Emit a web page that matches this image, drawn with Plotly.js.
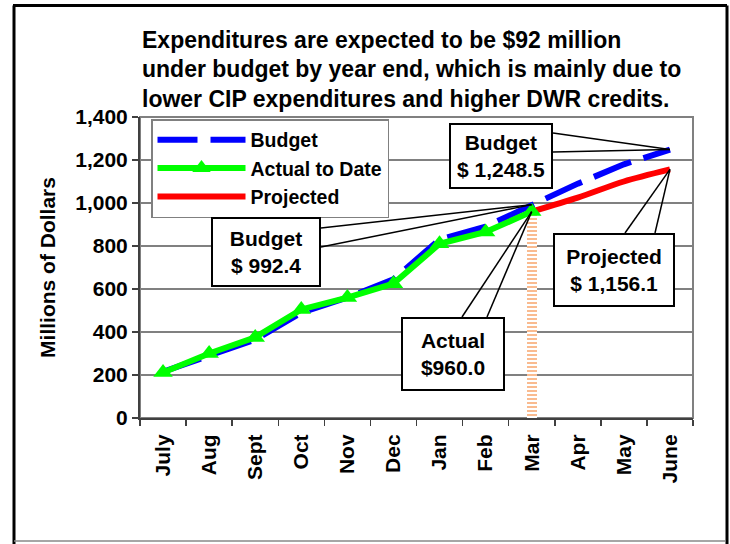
<!DOCTYPE html>
<html>
<head>
<meta charset="utf-8">
<script src="https://cdn.plot.ly/plotly-3.0.1.min.js"></script>
<style>
  html, body { margin: 0; padding: 0; background: #ffffff; }
  #chart { width: 730px; height: 544px; }
</style>
</head>
<body>
<div id="chart"></div>
<script>
// ---- data ----
const months = ['July','Aug','Sept','Oct','Nov','Dec','Jan','Feb','Mar','Apr','May','June'];
const budget = [215, 290, 365, 490, 560, 645, 830, 890, 992.4, 1090, 1180, 1248.5];
const actualToDate = [212, 300, 375, 505, 560, 625, 810, 865, 960.0, null, null, null];
const projected = [null, null, null, null, null, null, null, null, 960.0, 1025, 1100, 1156.1];
const currentMonthBar = [null, null, null, null, null, null, null, null, 960.0, null, null, null];
const titleLines = [
  'Expenditures are expected to be $92 million',
  'under budget by year end, which is mainly due to',
  'lower CIP expenditures and higher DWR credits.'
];
const yTitle = 'Millions of Dollars';
// callouts: label, series, month index
const callouts = [
  { text: 'Budget<br>$ 1,248.5', series: budget, idx: 11 },
  { text: 'Budget<br>$ 992.4', series: budget, idx: 8 },
  { text: 'Actual<br>$960.0', series: actualToDate, idx: 8 },
  { text: 'Projected<br>$ 1,156.1', series: projected, idx: 11 }
];

// ---- layout helpers (pixel geometry of the plot area) ----
const W = 730, H = 544;
const M = { l: 140, r: 37, t: 117, b: 126 };
const PW = W - M.l - M.r, PH = H - M.t - M.b;
const px = x => (x - M.l) / PW;          // pixel x -> paper x
const py = y => (H - M.b - y) / PH;      // pixel y -> paper y
const YMAX = 1400;
const dataPaper = (idx, v) => ({ x: (idx + 0.5) / months.length, y: v / YMAX });

const FONT = 'Liberation Sans, Arial, Helvetica, sans-serif';

const traces = [
  {
    type: 'bar', x: months, y: currentMonthBar, width: 0.22, showlegend: false,
    marker: {
      color: '#ffffff',
      line: { width: 0 },
      pattern: { shape: '-', fgcolor: '#F9B384', bgcolor: '#ffffff', size: 4, solidity: 0.45, fillmode: 'replace' }
    },
    hoverinfo: 'skip'
  },
  {
    type: 'scatter', mode: 'lines', name: 'Budget', x: months, y: budget, legendrank: 1,
    line: { color: '#0000FF', width: 6, dash: '40px,13px' }
  },
  {
    type: 'scatter', mode: 'lines', name: 'Projected', x: months, y: projected, legendrank: 3,
    line: { color: '#FF0000', width: 6, shape: 'spline', smoothing: 0.8 }
  },
  {
    type: 'scatter', mode: 'lines+markers', name: 'Actual to Date', x: months, y: actualToDate, legendrank: 2,
    line: { color: '#00FF00', width: 6 },
    marker: { symbol: 'triangle-up', size: 17, color: '#00FF00', line: { width: 0 } }
  }
];

// callout boxes (pixel boxes) and leader start points
const calloutBoxes = [
  { cx: 501, cy: 156, w: 100, h: 62, starts: [[553, 133], [553, 152]] },
  { cx: 266, cy: 252, w: 106, h: 66, starts: [[321, 228], [321, 247]] },
  { cx: 453, cy: 354, w: 100, h: 70, starts: [[462, 317], [487, 317]] },
  { cx: 614, cy: 270, w: 118, h: 70, starts: [[625, 233], [655, 233]] }
];

const annotations = [];
const shapes = [];

titleLines.forEach((t, i) => {
  annotations.push({
    text: t, xref: 'paper', yref: 'paper', x: 0, y: py(40 + i * 29.5),
    xanchor: 'left', yanchor: 'middle', showarrow: false,
    font: { family: FONT, size: 23, weight: 'bold', color: '#000' }
  });
});

callouts.forEach((c, i) => {
  const b = calloutBoxes[i];
  const end = dataPaper(c.idx, c.series[c.idx]);
  b.starts.forEach(s => {
    shapes.push({
      type: 'line', xref: 'paper', yref: 'paper',
      x0: px(s[0]), y0: py(s[1]), x1: end.x, y1: end.y,
      line: { color: '#000', width: 1.5 }, layer: 'above'
    });
  });
  annotations.push({
    text: c.text, xref: 'paper', yref: 'paper', x: px(b.cx), y: py(b.cy),
    xanchor: 'center', yanchor: 'middle', showarrow: false,
    width: b.w, height: b.h, align: 'center', valign: 'middle',
    bgcolor: '#ffffff', bordercolor: '#000', borderwidth: 2, borderpad: 0,
    font: { family: FONT, size: 21, weight: 'bold', color: '#000' }
  });
});

// plot area frame (gray) below data
shapes.push({
  type: 'rect', xref: 'paper', yref: 'paper', x0: 0, y0: 0, x1: 1, y1: 1,
  line: { color: '#808080', width: 2 }, layer: 'below'
});
// outer picture frame
shapes.push({ type: 'line', xref: 'paper', yref: 'paper', x0: px(14), y0: py(5.5), x1: px(14), y1: py(544), line: { color: '#000', width: 3 } });
shapes.push({ type: 'line', xref: 'paper', yref: 'paper', x0: px(13), y0: py(5.5), x1: px(727), y1: py(5.5), line: { color: '#000', width: 3 } });
shapes.push({ type: 'line', xref: 'paper', yref: 'paper', x0: px(727), y0: py(5.5), x1: px(727), y1: py(544), line: { color: '#000', width: 3 } });
shapes.push({ type: 'line', xref: 'paper', yref: 'paper', x0: px(14), y0: py(541), x1: px(725), y1: py(541), line: { color: '#888', width: 1.5 } });

const layout = {
  width: W, height: H,
  margin: M,
  paper_bgcolor: '#ffffff', plot_bgcolor: '#ffffff',
  font: { family: FONT, size: 21, weight: 'bold', color: '#000' },
  showlegend: true,
  legend: {
    x: px(151), y: py(119), xanchor: 'left', yanchor: 'top',
    bgcolor: '#ffffff', bordercolor: '#808080', borderwidth: 1.5,
    font: { family: FONT, size: 19.5, weight: 'bold', color: '#000' },
    itemwidth: 88,
    traceorder: 'normal', tracegroupgap: 0
  },
  xaxis: {
    type: 'category', categoryorder: 'array', categoryarray: months,
    range: [-0.5, 11.5], fixedrange: true,
    tickson: 'boundaries', ticks: 'outside', ticklen: 6, tickwidth: 1.5, tickcolor: '#404040',
    ticklabelstandoff: 6,
    tickangle: -90, showgrid: false, showline: true, linecolor: '#404040', linewidth: 2,
    tickfont: { family: FONT, size: 21, weight: 'bold', color: '#000' },
    automargin: false
  },
  yaxis: {
    range: [0, YMAX], dtick: 200, tickformat: ',d', fixedrange: true,
    ticks: 'outside', ticklen: 6, tickwidth: 1.5, tickcolor: '#404040',
    showgrid: true, gridcolor: '#808080', gridwidth: 1.2,
    showline: true, linecolor: '#404040', linewidth: 2, zeroline: false,
    tickfont: { family: FONT, size: 21, weight: 'bold', color: '#000' },
    title: { text: yTitle, standoff: 14, font: { family: FONT, size: 21, weight: 'bold', color: '#000' } },
    automargin: false
  },
  bargap: 0,
  hovermode: false,
  shapes: shapes,
  annotations: annotations
};

Plotly.newPlot('chart', traces, layout, { staticPlot: true, displayModeBar: false });
</script>
</body>
</html>
